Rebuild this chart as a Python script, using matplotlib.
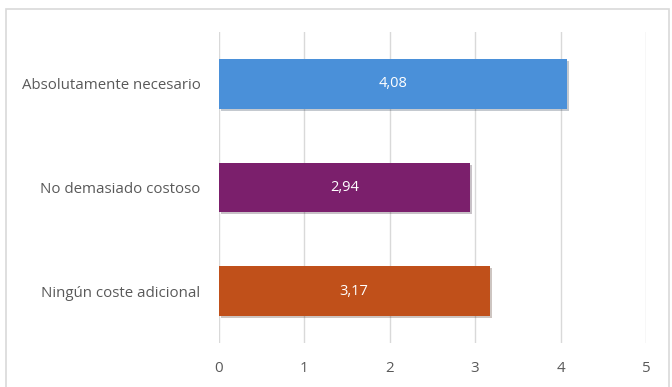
import matplotlib

matplotlib.use("Agg")

import matplotlib.pyplot as plt
import matplotlib.patheffects as pe
from matplotlib.patches import Rectangle

categories = ["Absolutamente necesario", "No demasiado costoso", "Ningún coste adicional"]
values = [4.08, 2.94, 3.17]
bar_colors = ["#4A90D9", "#7B1F6C", "#C0501A"]
x_ticks = [0, 1, 2, 3, 4, 5]

fig = plt.figure(figsize=(6.72, 3.87), dpi=100)
fig.patch.set_facecolor("white")
plt.rcParams["font.family"] = ["Open Sans", "DejaVu Sans"]

# marco exterior del grafico
fig.patches.append(
    Rectangle((6 / 672, -0.05), 663 / 672, 1.05 - 9 / 387, transform=fig.transFigure,
              facecolor="none", edgecolor="#d9d9d9", linewidth=1.2)
)

ax = fig.add_axes([218.6 / 672, 1 - 343 / 387, (646 - 218.6) / 672, 311 / 387])
pos = list(range(len(categories)))
bars = ax.barh(pos, values, height=0.48, color=bar_colors, zorder=3)
for b in bars:
    b.set_path_effects([pe.SimplePatchShadow(offset=(1.5, -1.5), alpha=0.25), pe.Normal()])

for p, v in zip(pos, values):
    ax.text(v / 2, p, f"{v:.2f}".replace(".", ","), ha="center", va="center",
            color="white", fontsize=10.5, zorder=4)

ax.set_xlim(0, 5)
ax.set_ylim(len(categories) - 0.5, -0.5)
ax.set_xticks(x_ticks)
ax.set_yticks(pos, labels=categories)
ax.grid(axis="x", color="#d9d9d9", linewidth=1, zorder=0)
ax.tick_params(axis="both", length=0, colors="#595959", labelsize=10.8)
ax.tick_params(axis="x", pad=13)
ax.tick_params(axis="y", pad=13)
for spine in ax.spines.values():
    spine.set_visible(False)

fig.savefig("out.png", dpi=100, facecolor="white")
